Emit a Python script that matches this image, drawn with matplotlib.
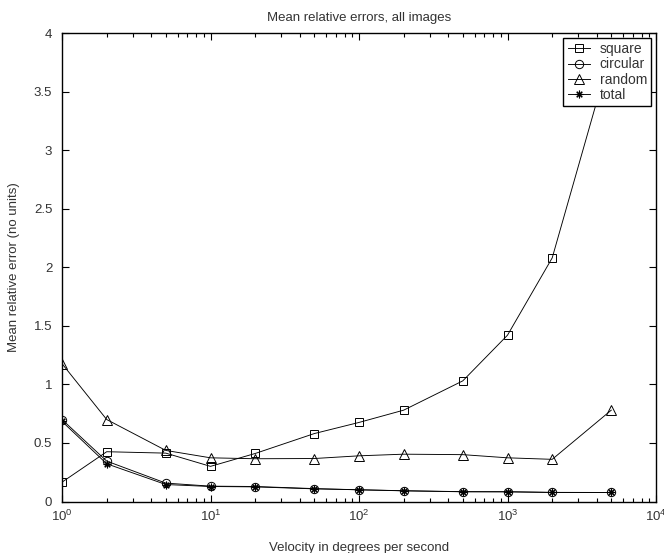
import numpy as np
import matplotlib
matplotlib.use("Agg")
import matplotlib.pyplot as plt
from matplotlib.ticker import LogLocator, NullFormatter

plt.rcParams['font.family'] = ['Liberation Sans', 'DejaVu Sans']

# velocities (degrees per second)
velocity = [1, 2, 5, 10, 20, 50, 100, 200, 500, 1000, 2000, 5000]

# mean relative errors
square = [0.165, 0.425, 0.413, 0.30, 0.41, 0.58, 0.675, 0.78, 1.03, 1.42, 2.08, 3.85]
circular = [0.70, 0.345, 0.157, 0.131, 0.128, 0.11, 0.10, 0.092, 0.084, 0.083, 0.078, 0.077]
random_ = [1.177, 0.70, 0.436, 0.373, 0.365, 0.367, 0.39, 0.404, 0.40, 0.373, 0.36, 0.78]
total = [0.684, 0.322, 0.145, 0.128, 0.125, 0.108, 0.10, 0.091, 0.083, 0.083, 0.077, 0.077]

fig = plt.figure(figsize=(6.64, 5.53), dpi=100)
ax = fig.add_axes([62/664, 1 - 501.5/553, (656-62)/664, (501.5-33)/553])

tc = '#333333'
fs = 9.5
lw = 0.65
ax.plot(velocity, square, color='k', lw=lw, marker='s', mfc='none', mec='k', ms=5.2, mew=0.7, label='square')
ax.plot(velocity, circular, color='k', lw=lw, marker='o', mfc='none', mec='k', ms=6, mew=0.7, label='circular')
ax.plot(velocity, random_, color='k', lw=lw, marker='^', mfc='none', mec='k', ms=7, mew=0.7, label='random')
# MATLAB-style asterisk: 8-armed
ax.plot(velocity, total, color='k', lw=lw, marker=(8, 2, 0), mfc='none', mec='k', ms=5.5, mew=0.8, label='total')

ax.set_xscale('log')
ax.set_xlim(1, 1e4)
ax.set_ylim(0, 4)
ax.set_yticks(np.arange(0, 4.01, 0.5))
ax.set_yticklabels(['0', '0.5', '1', '1.5', '2', '2.5', '3', '3.5', '4'])
ax.xaxis.set_major_locator(LogLocator(base=10, numticks=10))
ax.xaxis.set_minor_locator(LogLocator(base=10, subs=np.arange(2, 10), numticks=10))
ax.xaxis.set_minor_formatter(NullFormatter())

ax.tick_params(which='both', direction='in', top=True, right=True, labelsize=fs, labelcolor=tc, width=0.8)
ax.tick_params(which='major', length=5)
ax.tick_params(which='minor', length=3)
ax.tick_params(axis='x', pad=5)
ax.tick_params(axis='y', pad=7)
for s in ax.spines.values():
    s.set_linewidth(1.0)

ax.set_title('Mean relative errors, all images', fontsize=fs, color=tc, pad=9)
ax.set_xlabel('Velocity in degrees per second', fontsize=fs, color=tc, labelpad=13)
ax.set_ylabel('Mean relative error (no units)', fontsize=fs, color=tc, labelpad=10)

leg = ax.legend(loc='upper right', fontsize=fs + 0.5, frameon=True, fancybox=False,
                borderaxespad=0.35, handlelength=1.6, handletextpad=0.7,
                labelspacing=0.1, borderpad=0.3)
leg.get_frame().set_edgecolor('k')
leg.get_frame().set_linewidth(1.0)
leg.get_frame().set_alpha(1)
for t in leg.get_texts():
    t.set_color(tc)

fig.savefig('out.png', dpi=100)
